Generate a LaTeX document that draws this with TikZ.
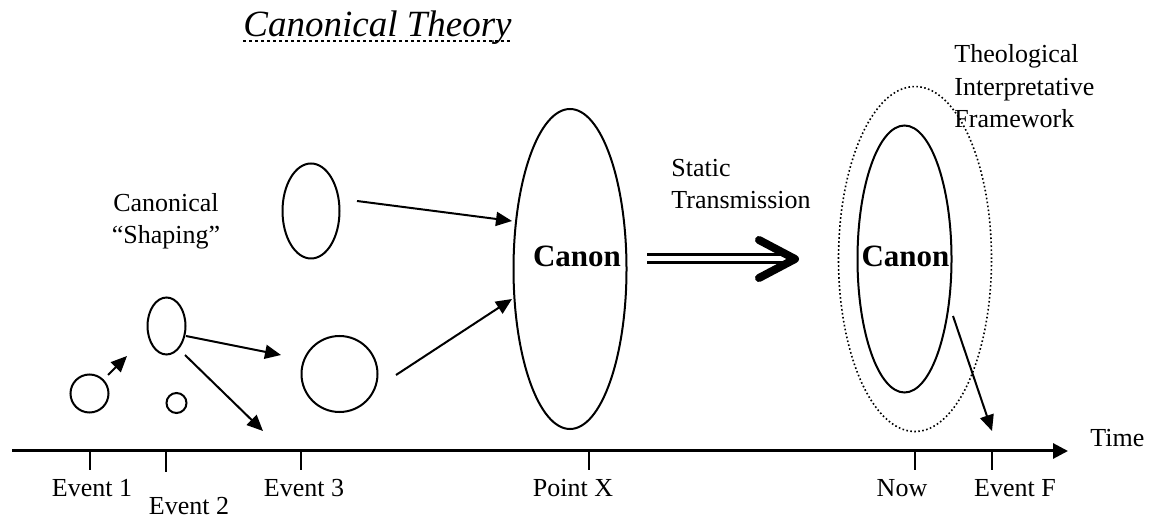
\documentclass[tikz,border=0pt]{standalone}
\usepackage{fontspec}
\setmainfont{Liberation Serif}
\usetikzlibrary{shapes.geometric,arrows.meta}
\begin{document}
\begin{tikzpicture}[x=0.5pt,y=-0.5pt,
  lbl/.style={inner sep=0,font=\fontsize{13}{16}\selectfont},
  blob/.style={draw,ellipse,line width=1pt,inner sep=0},
  arr/.style={line width=1pt,-{Triangle[length=8pt,width=7pt]}},
  canonlbl/.style={inner sep=0,font=\fontsize{15.5}{18}\selectfont\bfseries},
  tickmark/.style={line width=1pt},
  dotframe/.style={draw,ellipse,inner sep=0,line width=0.8pt,dash pattern=on 0.8pt off 1.2pt}]
\useasboundingbox (0,0) rectangle (1155,517);
% title
\node[anchor=base west,inner sep=0,font=\fontsize{18.5}{22}\selectfont\itshape] (title) at (243,37) {Canonical Theory};
\draw[line width=0.75pt,dash pattern=on 1.5pt off 1.5pt] ([yshift=-2pt]title.base west) -- ([yshift=-2pt]title.base east);
% shapes
\node[blob,minimum width=19pt,minimum height=19pt] (e1) at (89.5,393.5) {};
\node[blob,minimum width=19pt,minimum height=28.5pt] (shp) at (166.5,326) {};
\node[blob,minimum width=10pt,minimum height=10pt] (small) at (176.5,403) {};
\node[blob,minimum width=38pt,minimum height=38pt] (e3) at (339.5,374) {};
\node[blob,minimum width=28.5pt,minimum height=47.5pt] (up) at (311,211) {};
\node[blob,minimum width=56.5pt,minimum height=160pt] (canon1) at (570,269) {};
\node[blob,minimum width=47pt,minimum height=133.5pt] (canon2) at (904.5,259) {};
\node[dotframe,minimum width=76.5pt,minimum height=172.5pt] (frame) at (915,259) {};
\node[canonlbl,anchor=base] (c1t) at (577,267) {Canon};
\node[canonlbl,anchor=base] (c2t) at (905.5,267) {Canon};
% labels
\node[lbl,anchor=base] (can1) at (166,212) {Canonical};
\node[lbl,anchor=base] (can2) at (166,244) {``Shaping''};
\node[lbl,anchor=base west] (st1) at (671,177) {Static};
\node[lbl,anchor=base west] (st2) at (671,209) {Transmission};
\node[lbl,anchor=base west] (th1) at (954,63) {Theological};
\node[lbl,anchor=base west] (th2) at (954,96) {Interpretative};
\node[lbl,anchor=base west] (th3) at (954,128) {Framework};
% arrows
\coordinate (a1s) at (108,375); \coordinate (a1e) at (127,356);
\coordinate (a2s) at (186,336); \coordinate (a2e) at (281,355);
\coordinate (a3s) at (185,355); \coordinate (a3e) at (263,431);
\coordinate (a4s) at (396,375); \coordinate (a4e) at (512,299);
\coordinate (a5s) at (357,201); \coordinate (a5e) at (512,221);
\coordinate (a6s) at (953,316); \coordinate (a6e) at (992,431);
\draw[arr] (a1s) -- (a1e);
\draw[arr] (a2s) -- (a2e);
\draw[arr] (a3s) -- (a3e);
\draw[arr] (a4s) -- (a4e);
\draw[arr] (a5s) -- (a5e);
\draw[arr] (a6s) -- (a6e);
% static transmission double arrow
\coordinate (ds) at (647,259); \coordinate (de) at (785,259);
\draw[line width=1.5pt,double,double distance=2.5pt] (ds) -- (de);
\draw[line width=4pt,line cap=round,line join=round] (759,240) -- (795,259) -- (759,278);
% time axis
\coordinate (ax0) at (12,451); \coordinate (ax1) at (1068,451);
\draw[line width=1.5pt,-{Triangle[length=7.5pt,width=7.5pt]}] (ax0) -- (ax1);
\node[lbl,anchor=base west] (time) at (1090,447) {Time};
\coordinate (t1) at (90,451); \coordinate (t2) at (166,451); \coordinate (t3) at (301,451);
\coordinate (t4) at (589,451); \coordinate (t5) at (915,451); \coordinate (t6) at (992,451);
\draw[tickmark] (t1) -- ++(0,19);
\draw[tickmark] (t2) -- ++(0,21);
\draw[tickmark] (t3) -- ++(0,19);
\draw[tickmark] (t4) -- ++(0,19);
\draw[tickmark] (t5) -- ++(0,19);
\draw[tickmark] (t6) -- ++(0,19);
\node[lbl,anchor=base] (ev1) at (92,496) {Event 1};
\node[lbl,anchor=base] (ev2) at (189,514) {Event 2};
\node[lbl,anchor=base] (ev3) at (304,496) {Event 3};
\node[lbl,anchor=base] (px) at (573,496) {Point X};
\node[lbl,anchor=base] (now) at (902,496) {Now};
\node[lbl,anchor=base] (evf) at (1015,496) {Event F};
\end{tikzpicture}
\end{document}
